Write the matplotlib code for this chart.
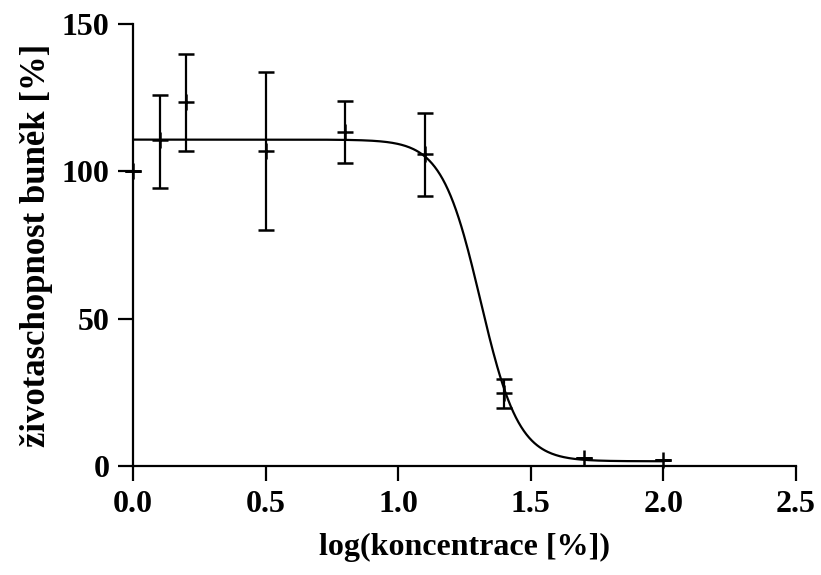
import matplotlib
matplotlib.use("Agg")
import matplotlib.pyplot as plt
import numpy as np

plt.rcParams['font.family'] = ['Liberation Serif', 'DejaVu Serif']
plt.rcParams['font.weight'] = 'bold'

# measured points (log concentration, mean viability, SD)
log_conc = [0.0, 0.1, 0.2, 0.5, 0.8, 1.1, 1.4, 1.7, 2.0]
viability = [100.0, 110.5, 123.5, 106.8, 113.3, 105.8, 24.8, 2.7, 2.0]
err_low = [0.0, 16.0, 16.5, 26.8, 10.6, 14.3, 5.1, 0.0, 0.0]
err_high = [0.0, 15.5, 16.3, 26.9, 10.5, 14.2, 4.8, 0.0, 0.0]

# 4-parameter logistic fit (top, bottom, logIC50, hill slope)
fit_top = 110.8
fit_bottom = 1.6
fit_logic50 = 1.31
fit_hill = 6.0

fig, ax = plt.subplots(figsize=(8.21, 5.75), dpi=100)
fig.subplots_adjust(left=0.162, right=0.9696, bottom=0.1896, top=0.958)

xfit = np.linspace(0, 2.0, 400)
yfit = fit_bottom + (fit_top - fit_bottom) / (1 + 10 ** ((xfit - fit_logic50) * fit_hill))
ax.plot(xfit, yfit, color='black', lw=1.6, zorder=2)

eb = ax.errorbar(log_conc, viability, yerr=[err_low, err_high], fmt='+', color='black',
                 markersize=12, mew=1.8, elinewidth=1.6, capsize=6, capthick=1.6, zorder=3)
for art in eb.lines[0:1] + tuple(eb.lines[1]) + tuple(eb.lines[2]):
    art.set_clip_on(False)

ax.set_xlim(0, 2.5)
ax.set_ylim(0, 150)
ax.set_xticks([0.0, 0.5, 1.0, 1.5, 2.0, 2.5])
ax.set_xticklabels(['0.0', '0.5', '1.0', '1.5', '2.0', '2.5'])
ax.set_yticks([0, 50, 100, 150])

for s in ['top', 'right']:
    ax.spines[s].set_visible(False)
for s in ['left', 'bottom']:
    ax.spines[s].set_linewidth(1.6)
ax.tick_params(axis='both', length=11, width=1.6, labelsize=23, pad=6)

ax.set_xlabel('log(koncentrace [%])', fontsize=23, fontweight='bold', labelpad=10)
ax.set_ylabel('životaschopnost buněk [%]', fontsize=25, fontweight='bold', labelpad=6)

fig.savefig('out.png', dpi=100)
